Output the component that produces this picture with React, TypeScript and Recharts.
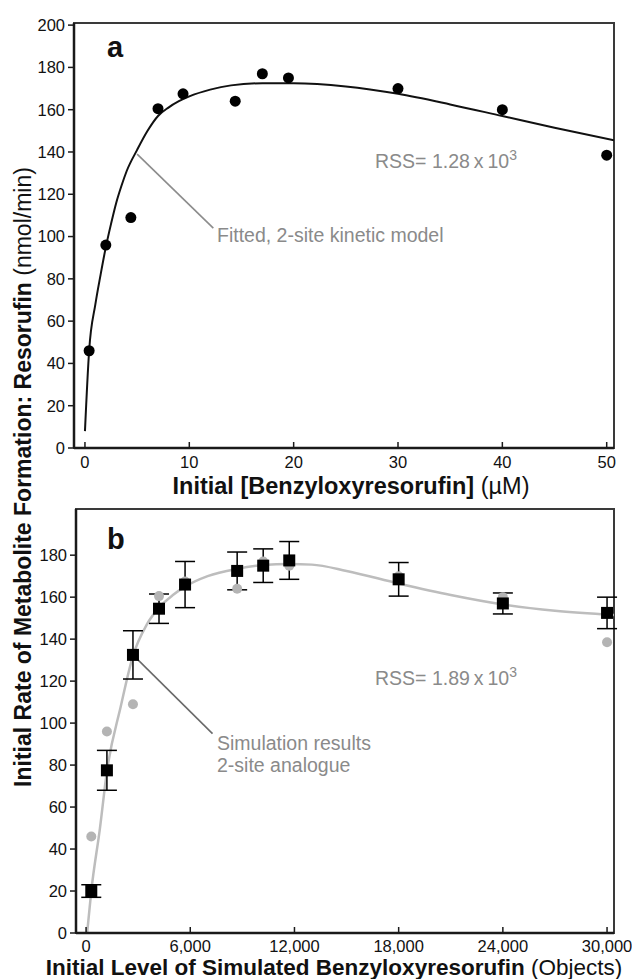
import React from "react";
import {
  ComposedChart,
  Line,
  Scatter,
  XAxis,
  YAxis,
  ErrorBar,
  ReferenceLine,
  ReferenceArea,
} from "recharts";

// ---------- Panel a: measured data ----------
const aX = [0.4, 2, 4.4, 7, 9.4, 14.4, 17, 19.5, 30, 40, 50];
const aY = [46, 96, 109, 160.5, 167.5, 164, 177, 175, 170, 160, 138.5];

// fitted 2-site kinetic model curve
const aCurveX = [0, 0.4, 1, 1.5, 2, 2.5, 3, 3.5, 4, 5, 6, 7, 8, 9, 10, 12, 14, 17, 20, 25, 30, 35, 40, 45, 50.7];
const aCurveY = [8, 46, 68, 82, 95, 106, 116, 124, 131, 141, 150, 157, 161, 164, 166.3, 169.5, 171.5, 172.5, 172.5, 171, 167.5, 162.5, 157, 151.5, 145.5];

const aXTicks = [0, 10, 20, 30, 40, 50];
const aYTicks = [0, 20, 40, 60, 80, 100, 120, 140, 160, 180, 200];

// ---------- Panel b: simulation ----------
const bX = [300, 1200, 2700, 4200, 5700, 8700, 10200, 11700, 18000, 24000, 30000];
const bY = [20, 77.5, 132.5, 154.5, 166, 172.5, 175, 177.5, 168.5, 157, 152.5];
const bErr = [3, 9.5, 11.5, 7, 11, 9, 8, 9, 8, 5, 7.5];
// grey reference dots (experimental data re-plotted)
const bRefY = [46, 96, 109, 160.5, 167.5, 164, 177, 175, 170, 160, 138.5];

const bCurveX = [60, 300, 800, 1200, 2000, 2700, 3500, 4200, 5000, 5700, 7000, 8700, 10200, 11700, 13000, 15000, 18000, 21000, 24000, 27000, 30400];
const bCurveY = [0, 20, 50, 77, 108, 132, 147, 155, 161, 165, 170, 173.5, 175.3, 175.8, 175.5, 172.5, 166.5, 161, 156.5, 153.5, 151.5];

const bXTicks = [0, 6000, 12000, 18000, 24000, 30000];
const bYTicks = [0, 20, 40, 60, 80, 100, 120, 140, 160, 180];

const aPoints = aX.map((x, i) => ({ x, y: aY[i] }));
const aCurve = aCurveX.map((x, i) => ({ x, y: aCurveY[i] }));
const bPoints = bX.map((x, i) => ({ x, y: bY[i], err: bErr[i] }));
const bRef = bX.map((x, i) => ({ x, y: bRefY[i] }));
const bCurve = bCurveX.map((x, i) => ({ x, y: bCurveY[i] }));

const FONT = "'Liberation Sans', Arial, Helvetica, sans-serif";
const AXIS = "#1a1a1a";
const GREYTXT = "#8a8a8a";

const aDomX: [number, number] = [-1.05, 50.7];
const aDomY: [number, number] = [0, 201];
const bDomX: [number, number] = [-580, 30400];
const bDomY: [number, number] = [0, 202];

const tickStyle = { fontSize: 16.5, fill: "#111", fontFamily: FONT };

const Square = (props: any) => {
  const { cx, cy } = props;
  if (cx == null || cy == null) return null;
  return <rect x={cx - 6} y={cy - 6} width={12} height={12} fill="#000" />;
};

const Dot = (r: number, fill: string) => (props: any) => {
  const { cx, cy } = props;
  if (cx == null || cy == null) return null;
  return <circle cx={cx} cy={cy} r={r} fill={fill} />;
};

const fmtThousands = (v: number) => v.toLocaleString("en-US");

export default function App() {
  return (
    <div style={{ position: "absolute", left: 0, top: 0, width: 632, height: 979, background: "#fff", fontFamily: FONT }}>
      {/* Panel a */}
      <div style={{ position: "absolute", left: 0, top: 0 }}>
        <ComposedChart width={632} height={480} margin={{ top: 23, right: 18, bottom: 2, left: 0 }}>
          <XAxis
            type="number"
            dataKey="x"
            domain={aDomX}
            allowDataOverflow
            ticks={aXTicks}
            interval={0}
            height={30}
            tickSize={-6}
            tickMargin={14}
            tick={tickStyle}
            axisLine={{ stroke: AXIS, strokeWidth: 2.5 }}
            tickLine={{ stroke: AXIS, strokeWidth: 1.5 }}
          />
          <YAxis
            type="number"
            dataKey="y"
            domain={aDomY}
            allowDataOverflow
            ticks={aYTicks}
            interval={0}
            width={74}
            tickSize={6}
            tickMargin={3}
            tick={tickStyle}
            axisLine={{ stroke: AXIS, strokeWidth: 2.5 }}
            tickLine={{ stroke: AXIS, strokeWidth: 1.5 }}
          />
          <ReferenceArea x1={aDomX[0]} x2={aDomX[1]} y1={aDomY[0]} y2={aDomY[1]} fill="none" fillOpacity={0} stroke="#3a3a3a" strokeWidth={2} ifOverflow="visible" />
          <ReferenceLine segment={[{ x: 5.0, y: 139 }, { x: 12.3, y: 104 }]} stroke="#8c8c8c" strokeWidth={1.6} ifOverflow="visible" />
          <Line data={aCurve} dataKey="y" type="monotone" stroke="#111" strokeWidth={2} dot={false} activeDot={false} isAnimationActive={false} />
          <Scatter data={aPoints} dataKey="y" shape={Dot(5.5, "#000")} isAnimationActive={false} />
        </ComposedChart>
      </div>

      {/* Panel b */}
      <div style={{ position: "absolute", left: 0, top: 480 }}>
        <ComposedChart width={632} height={499} margin={{ top: 29, right: 18, bottom: 16, left: 0 }}>
          <XAxis
            type="number"
            dataKey="x"
            domain={bDomX}
            allowDataOverflow
            ticks={bXTicks}
            interval={0}
            height={30}
            tickSize={-6}
            tickMargin={13}
            tick={tickStyle}
            tickFormatter={fmtThousands}
            axisLine={{ stroke: AXIS, strokeWidth: 2.5 }}
            tickLine={{ stroke: AXIS, strokeWidth: 1.5 }}
          />
          <YAxis
            type="number"
            dataKey="y"
            domain={bDomY}
            allowDataOverflow
            ticks={bYTicks}
            interval={0}
            width={76}
            tickSize={6}
            tickMargin={3}
            tick={tickStyle}
            axisLine={{ stroke: AXIS, strokeWidth: 2.5 }}
            tickLine={{ stroke: AXIS, strokeWidth: 1.5 }}
          />
          <ReferenceArea x1={bDomX[0]} x2={bDomX[1]} y1={bDomY[0]} y2={bDomY[1]} fill="none" fillOpacity={0} stroke="#3a3a3a" strokeWidth={2} ifOverflow="visible" />
          <Scatter data={bRef} dataKey="y" shape={Dot(5, "#b4b4b4")} isAnimationActive={false} />
          <Line data={bCurve} dataKey="y" type="monotone" stroke="#bdbdbd" strokeWidth={2.5} dot={false} activeDot={false} isAnimationActive={false} />
          <ReferenceLine segment={[{ x: 2700, y: 132.5 }, { x: 7280, y: 95 }]} stroke="#6a6a6a" strokeWidth={1.6} ifOverflow="visible" />
          <Scatter data={bPoints} dataKey="y" shape={Square} isAnimationActive={false}>
            <ErrorBar dataKey="err" direction="y" width={10} stroke="#000" strokeWidth={1.5} />
          </Scatter>
        </ComposedChart>
      </div>

      {/* Text overlay */}
      <svg width={632} height={979} style={{ position: "absolute", left: 0, top: 0, pointerEvents: "none" }} fontFamily={FONT}>
        <text transform="translate(31,477) rotate(-90)" textAnchor="middle" fontSize={23} fill="#111">
          <tspan fontWeight="bold">Initial Rate of Metabolite Formation: Resorufin</tspan>
          <tspan> (nmol/min)</tspan>
        </text>
        <text x={351} y={494} textAnchor="middle" fontSize={23.5} fill="#111">
          <tspan fontWeight="bold">Initial [Benzyloxyresorufin]</tspan>
          <tspan> (µM)</tspan>
        </text>
        <text x={334} y={975} textAnchor="middle" fontSize={22.5} fill="#111">
          <tspan fontWeight="bold">Initial Level of Simulated Benzyloxyresorufin</tspan>
          <tspan> (Objects)</tspan>
        </text>
        <text x={107} y={57} fontSize={29} fontWeight="bold" fill="#111">a</text>
        <text x={107} y={549} fontSize={29} fontWeight="bold" fill="#111">b</text>

        <text x={375} y={168} fontSize={19.5} fill={GREYTXT}>
          RSS= 1.28{"\u2009"}x{"\u2009"}10<tspan dy={-8} fontSize={14}>3</tspan>
        </text>
        <text x={375} y={685} fontSize={19.5} fill={GREYTXT}>
          RSS= 1.89{"\u2009"}x{"\u2009"}10<tspan dy={-8} fontSize={14}>3</tspan>
        </text>

        <text x={217} y={242} fontSize={19.5} fill={GREYTXT}>Fitted, 2-site kinetic model</text>
        <text x={217} y={750} fontSize={19.5} fill={GREYTXT}>Simulation results</text>
        <text x={217} y={772} fontSize={19.5} fill={GREYTXT}>2-site analogue</text>
      </svg>
    </div>
  );
}
